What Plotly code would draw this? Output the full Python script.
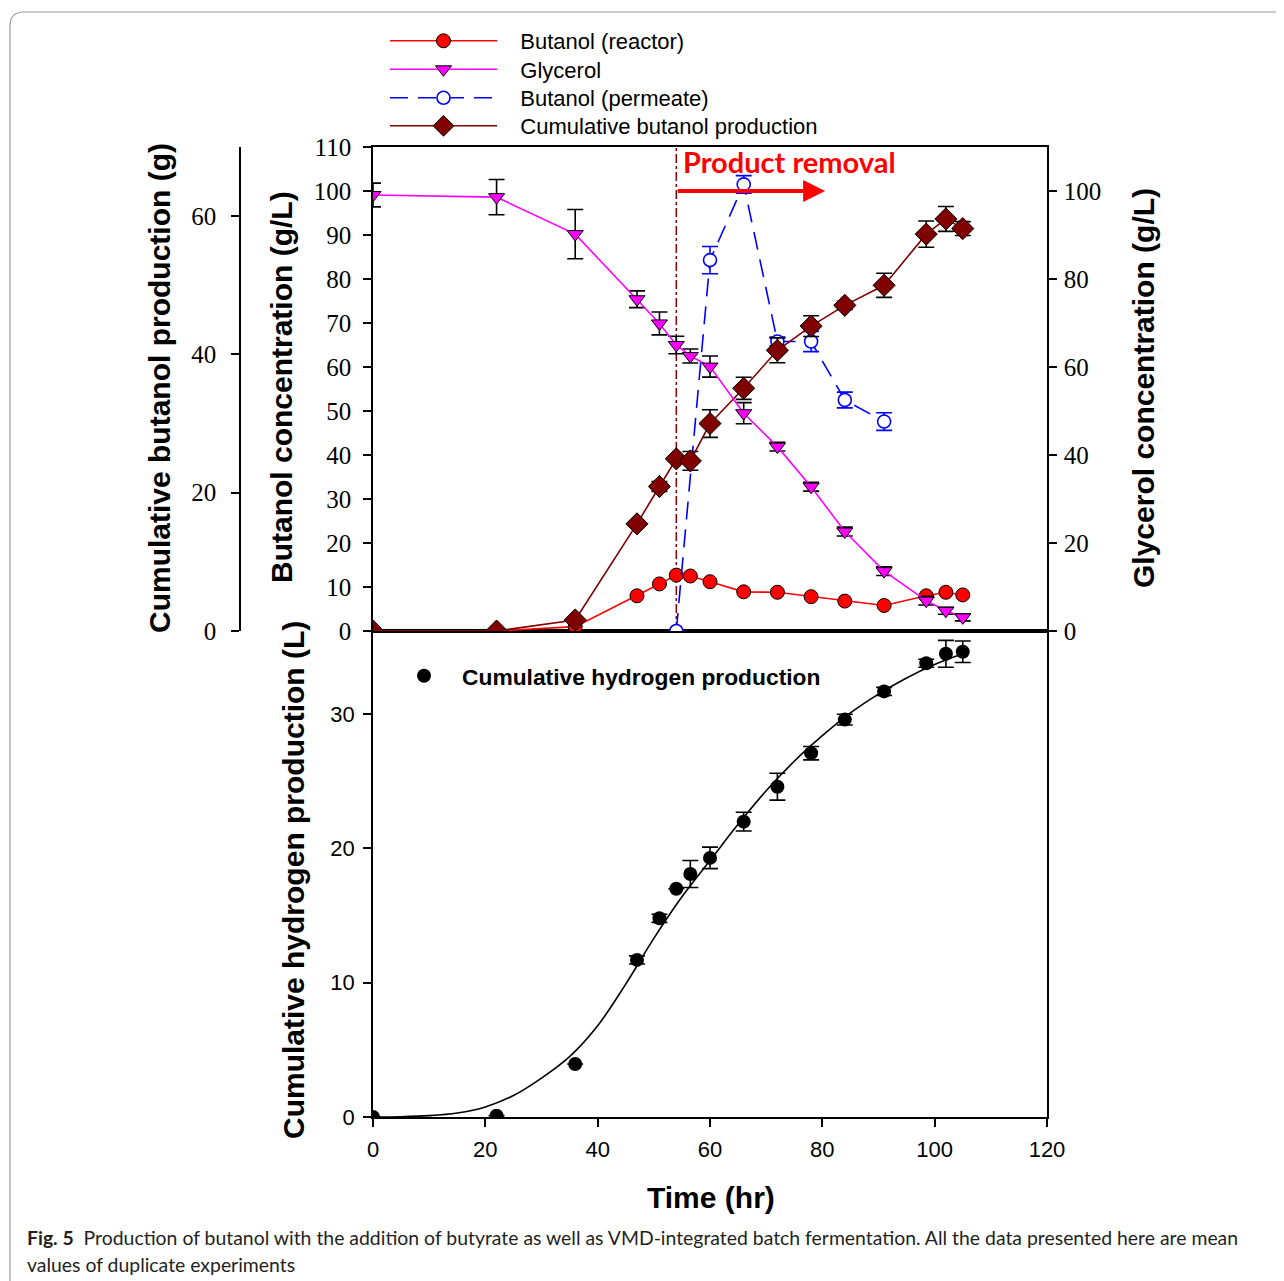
import plotly.graph_objects as go

# ---------------- data ----------------
time = [0, 22, 36, 47, 51, 54, 56.5, 60, 66, 72, 78, 84, 91, 98.5, 102, 105]

butanol_reactor = [0, 0, 1.0, 8.0, 10.7, 12.7, 12.5, 11.2, 8.9, 8.8, 7.8, 6.8, 5.8, 8.0, 8.8, 8.2]
butanol_reactor_err = [0, 0, 0.3, 0.3, 0.3, 0.3, 0.3, 0.3, 0.3, 0.3, 0.3, 0.3, 0.3, 0.3, 0.3, 0.3]

glycerol = [99.1, 98.6, 90.2, 75.4, 69.9, 65.0, 62.5, 60.1, 49.5, 41.9, 32.8, 22.6, 13.6, 6.9, 4.6, 3.1]
glycerol_err = [2.7, 4.0, 5.6, 1.9, 2.6, 2.0, 1.6, 2.4, 2.4, 1.0, 1.0, 1.0, 1.0, 1.0, 0.8, 0.8]

permeate_time = [54, 60, 66, 72, 78, 84, 91]
butanol_permeate = [0, 84.3, 101.5, 65.8, 65.8, 52.5, 47.6]
butanol_permeate_err = [0, 3.1, 2.0, 1.0, 2.3, 1.8, 2.0]

cum_butanol = [0, 0, 1.6, 15.5, 20.9, 24.9, 24.6, 30.0, 35.1, 40.6, 44.1, 47.1, 50.0, 57.4, 59.6, 58.2]
cum_butanol_err = [0, 0, 0, 0.4, 0.7, 0, 1.35, 2.0, 1.6, 1.8, 1.5, 0.6, 1.75, 1.9, 1.8, 1.0]

hydrogen = [0, 0.1, 3.95, 11.7, 14.8, 17.0, 18.1, 19.3, 22.0, 24.6, 27.1, 29.6, 31.7, 33.8, 34.5, 34.65]
hydrogen_err = [0, 0, 0, 0.3, 0.3, 0, 1.0, 0.8, 0.7, 1.0, 0.5, 0.4, 0.3, 0.3, 1.0, 0.8]

hyd_fit_time = [0, 5, 10, 15, 20, 25, 30, 35, 40, 45, 50, 55, 60, 65, 70, 75, 80, 85, 90, 95, 100, 105]
hyd_fit = [0, 0.02, 0.1, 0.3, 0.75, 1.6, 2.9, 4.5, 6.8, 9.9, 13.3, 16.4, 19.1, 21.8, 24.3, 26.5, 28.4,
           30.1, 31.5, 32.7, 33.7, 34.5]

removal_start = 54
removal_arrow_end = 80.5
removal_label = "Product removal"

x_ticks = [0, 20, 40, 60, 80, 100, 120]

# ---------------- geometry helpers ----------------
W, H = 1284, 1281
OFF = 8  # page body margin


def px(x):
    return (x - OFF) / W


def py(y):
    return 1 - (y - OFF) / H


X_DOM = [px(373), px(1047)]
TOP_DOM = [py(631), py(147)]
BOT_DOM = [py(1117), py(631)]

SERIF = "Times New Roman, Liberation Serif, serif"
SANS = "Liberation Sans, Arial, sans-serif"
NB = "\u00a0" * 3

fig = go.Figure()

# --- top panel ---
fig.add_trace(go.Scatter(
    x=time, y=butanol_reactor, xaxis="x2", yaxis="y2",
    name=NB + "Butanol (reactor)", mode="lines+markers",
    line=dict(color="#ff0000", width=1.6),
    marker=dict(symbol="circle", size=14, color="#ff0000", line=dict(color="black", width=1)),
    error_y=dict(type="data", array=butanol_reactor_err, color="black", thickness=1.3, width=6),
    legend="legend",
))
fig.add_trace(go.Scatter(
    x=time, y=glycerol, xaxis="x2", yaxis="y4",
    name=NB + "Glycerol", mode="lines+markers",
    line=dict(color="#ff00ff", width=1.6),
    marker=dict(symbol="triangle-down", size=14, color="#ff00ff", line=dict(color="black", width=1)),
    error_y=dict(type="data", array=glycerol_err, color="black", thickness=1.6, width=8),
    legend="legend3",
))
fig.add_trace(go.Scatter(
    x=permeate_time, y=butanol_permeate, xaxis="x2", yaxis="y2",
    name=NB + "Butanol (permeate)", mode="lines+markers",
    line=dict(color="#0000ff", width=1.6, dash="18px,10px"),
    marker=dict(symbol="circle", size=13, color="white", line=dict(color="#0000ff", width=1.6)),
    error_y=dict(type="data", array=butanol_permeate_err, color="#0000ff", thickness=1.6, width=8),
    legend="legend4",
))
fig.add_trace(go.Scatter(
    x=time, y=cum_butanol, xaxis="x2", yaxis="y3",
    name=NB + "Cumulative butanol production", mode="lines+markers",
    line=dict(color="#800000", width=1.6),
    marker=dict(symbol="diamond", size=17, color="#800000", line=dict(color="black", width=1)),
    error_y=dict(type="data", array=cum_butanol_err, color="black", thickness=1.6, width=8),
    legend="legend5",
))

# --- bottom panel ---
fig.add_trace(go.Scatter(
    x=hyd_fit_time, y=hyd_fit, xaxis="x", yaxis="y", mode="lines",
    line=dict(color="black", width=1.6, shape="spline"), showlegend=False, hoverinfo="skip",
))
fig.add_trace(go.Scatter(
    x=time, y=hydrogen, xaxis="x", yaxis="y",
    name="Cumulative hydrogen production", mode="markers",
    marker=dict(symbol="circle", size=14, color="black"),
    error_y=dict(type="data", array=hydrogen_err, color="black", thickness=1.6, width=8),
    legend="legend2",
))

axis_common = dict(showgrid=False, zeroline=False, showline=True, linecolor="black", linewidth=1.6,
                   ticks="outside", ticklen=8, tickwidth=1.6, tickcolor="black")


def leg(xpix, ypix, width, bold=False, size=22):
    f = dict(family=SANS, size=size, color="black")
    if bold:
        f["weight"] = "bold"
    return dict(x=px(xpix), y=py(ypix), xanchor="left", yanchor="middle", bgcolor="rgba(0,0,0,0)",
                itemwidth=width, font=f, borderwidth=0)


fig.update_layout(
    width=W, height=H, autosize=False,
    margin=dict(l=0, r=0, t=0, b=0, pad=0, autoexpand=False),
    paper_bgcolor="white", plot_bgcolor="white",
    xaxis=dict(domain=X_DOM, anchor="y", range=[0, 120], tickvals=x_ticks, mirror=True,
               ticklabelstandoff=4,
               tickfont=dict(family=SANS, size=22, color="black"), **axis_common),
    yaxis=dict(domain=BOT_DOM, anchor="x", range=[0, 36.2], tickvals=[0, 10, 20, 30], mirror=True,
               ticklabelstandoff=4,
               tickfont=dict(family=SANS, size=22, color="black"), **axis_common),
    xaxis2=dict(domain=X_DOM, anchor="y2", range=[0, 120], matches="x", showticklabels=False,
                showgrid=False, zeroline=False, showline=True, linecolor="black", linewidth=1.6,
                mirror=True, ticks=""),
    yaxis2=dict(domain=TOP_DOM, anchor="x2", range=[0, 110], dtick=10, ticklabelstandoff=7,
                tickfont=dict(family=SERIF, size=25, color="black"), **axis_common),
    yaxis3=dict(domain=TOP_DOM, overlaying="y2", anchor="free", position=px(240), side="left",
                range=[0, 70], tickvals=[0, 20, 40, 60], ticklabelstandoff=10,
                tickfont=dict(family=SERIF, size=25, color="black"), **axis_common),
    yaxis4=dict(domain=TOP_DOM, overlaying="y2", anchor="x2", side="right", range=[0, 110],
                tickvals=[0, 20, 40, 60, 80, 100], ticklabelstandoff=2,
                tickfont=dict(family=SERIF, size=25, color="black"), **axis_common),
    legend=leg(385, 41, 107),
    legend3=leg(385, 69.5, 107),
    legend4=leg(385, 98, 107),
    legend5=leg(385, 126, 107),
    legend2=leg(386, 676, 66, bold=True, size=22.8),
    showlegend=True,
)

# dash-dot line marking start of product removal
fig.add_shape(type="line", xref="x2", yref="y2 domain", x0=removal_start, x1=removal_start, y0=0, y1=1,
              line=dict(color="#8b0000", width=1.5, dash="dashdot"), layer="below")

annotations = []
# arrow
annotations.append(dict(xref="x2", yref="y2", axref="x2", ayref="y2",
                        x=removal_arrow_end, y=100, ax=removal_start, ay=100,
                        showarrow=True, arrowhead=2, arrowsize=1.1, arrowwidth=4, arrowcolor="#ff0000",
                        text=""))
annotations.append(dict(xref="x2", yref="paper", x=54.8, y=py(161), xanchor="left", yanchor="middle",
                        text="<b>" + removal_label + "</b>", showarrow=False,
                        font=dict(family="Lato, Open Sans, sans-serif", size=29, color="#ff0000")))

# axis titles
title_font = dict(family=SANS, size=30, color="black")
annotations += [
    dict(xref="paper", yref="paper", x=px(159), y=py(388), text="<b>Cumulative butanol production (g)</b>",
         textangle=-90, showarrow=False, font=title_font, xanchor="center", yanchor="middle"),
    dict(xref="paper", yref="paper", x=px(281), y=py(387), text="<b>Butanol concentration (g/L)</b>",
         textangle=-90, showarrow=False, font=title_font, xanchor="center", yanchor="middle"),
    dict(xref="paper", yref="paper", x=px(1143), y=py(388), text="<b>Glycerol concentration (g/L)</b>",
         textangle=-90, showarrow=False, font=title_font, xanchor="center", yanchor="middle"),
    dict(xref="paper", yref="paper", x=px(293), y=py(880), text="<b>Cumulative hydrogen production (L)</b>",
         textangle=-90, showarrow=False, font=title_font, xanchor="center", yanchor="middle"),
    dict(xref="paper", yref="paper", x=px(711), y=py(1197), text="<b>Time (hr)</b>",
         showarrow=False, font=title_font, xanchor="center", yanchor="middle"),
]

# caption
cap_font = dict(family="Lato, sans-serif", size=19.4, color="#231f20")
annotations += [
    dict(xref="paper", yref="paper", x=px(25), y=py(1237), xanchor="left", yanchor="middle", showarrow=False,
         text="<b>Fig. 5</b>  Production of butanol with the addition of butyrate as well as VMD-integrated batch "
              "fermentation. All the data presented here are mean", font=cap_font),
    dict(xref="paper", yref="paper", x=px(25), y=py(1264), xanchor="left", yanchor="middle", showarrow=False,
         text="values of duplicate experiments", font=cap_font),
]
fig.update_layout(annotations=annotations)

# outer rounded frame (top-left visible)
fig.add_shape(type="path", xref="paper", yref="paper",
              path=f"M {px(10)},{py(1300)} L {px(10)},{py(26)} Q {px(10)},{py(12)} {px(24)},{py(12)} L {px(1300)},{py(12)}",
              line=dict(color="#999999", width=1.2))

fig.write_html("out.html")
